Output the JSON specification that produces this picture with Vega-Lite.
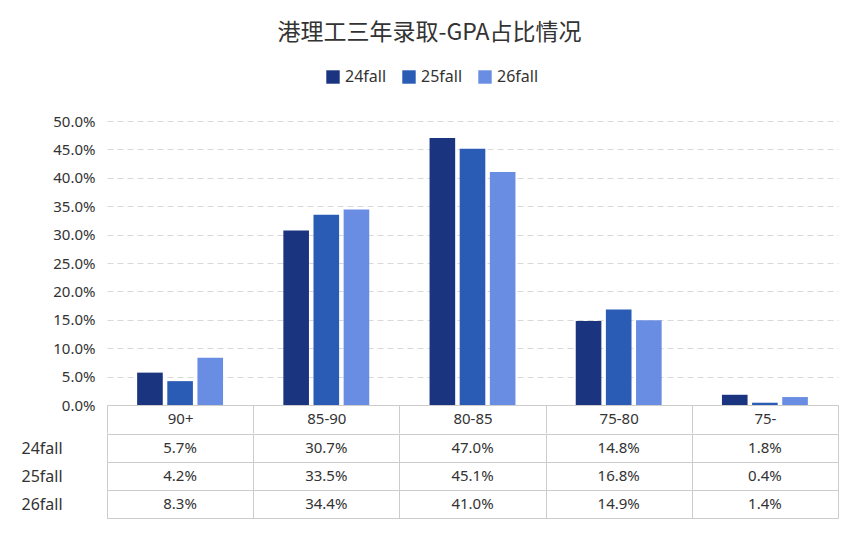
{
  "$schema": "https://vega.github.io/schema/vega-lite/v6.json",
  "padding": {"left": 20, "top": 22, "right": 20, "bottom": 5},
  "background": "white",
  "title": {"text": "港理工三年录取-GPA占比情况", "fontSize": 23, "font": "Noto Sans CJK SC", "fontWeight": "normal", "color": "#333333", "offset": 24, "anchor": "middle"},
  "config": {"font": "Noto Sans", "view": {"stroke": null}, "axis": {"labelFontSize": 15, "labelColor": "#333333"}},
  "data": {"values": [
    {"gpa": "90+", "year": "24fall", "v": 0.057},
    {"gpa": "90+", "year": "25fall", "v": 0.042},
    {"gpa": "90+", "year": "26fall", "v": 0.083},
    {"gpa": "85-90", "year": "24fall", "v": 0.307},
    {"gpa": "85-90", "year": "25fall", "v": 0.335},
    {"gpa": "85-90", "year": "26fall", "v": 0.344},
    {"gpa": "80-85", "year": "24fall", "v": 0.470},
    {"gpa": "80-85", "year": "25fall", "v": 0.451},
    {"gpa": "80-85", "year": "26fall", "v": 0.410},
    {"gpa": "75-80", "year": "24fall", "v": 0.148},
    {"gpa": "75-80", "year": "25fall", "v": 0.168},
    {"gpa": "75-80", "year": "26fall", "v": 0.149},
    {"gpa": "75-", "year": "24fall", "v": 0.018},
    {"gpa": "75-", "year": "25fall", "v": 0.004},
    {"gpa": "75-", "year": "26fall", "v": 0.014}
  ]},
  "spacing": -11,
  "vconcat": [
    {
      "width": 731,
      "height": 284,
      "mark": {"type": "bar"},
      "encoding": {
        "x": {"field": "gpa", "type": "nominal", "sort": null, "title": null,
          "scale": {"paddingInner": 0, "paddingOuter": 0},
          "axis": {"labelAngle": 0, "tickBand": "extent", "ticks": true, "tickSize": 28, "tickColor": "#cccccc", "domainColor": "#cccccc", "labelPadding": -15, "labelBaseline": "middle", "minExtent": 28, "maxExtent": 28}},
        "xOffset": {"field": "year", "type": "nominal", "scale": {"paddingOuter": 2.0, "paddingInner": 0.15}},
        "y": {"field": "v", "type": "quantitative", "title": null,
          "scale": {"domain": [0, 0.5]},
          "axis": {"format": ".1%", "tickCount": 10, "domain": false, "ticks": false, "gridDash": [6, 4], "gridColor": "#d9d9d9", "labelPadding": 12}},
        "color": {"field": "year", "type": "nominal", "title": null,
          "scale": {"range": ["#1b3480", "#2a5cb6", "#6a8de4"]},
          "legend": {"orient": "none", "legendX": 218, "legendY": -52, "direction": "horizontal", "symbolType": "square", "symbolSize": 180, "labelFontSize": 16, "labelColor": "#333333", "columnPadding": 14}}
      }
    },
    {
      "width": 731,
      "height": 84,
      "view": {"stroke": "#cccccc"},
      "mark": {"type": "text", "fontSize": 15, "color": "#333333"},
      "encoding": {
        "x": {"field": "gpa", "type": "nominal", "sort": null, "title": null,
          "scale": {"paddingInner": 0, "paddingOuter": 0},
          "axis": {"labels": false, "ticks": false, "domain": false, "grid": true, "tickBand": "extent", "gridColor": "#cccccc"}},
        "y": {"field": "year", "type": "nominal", "title": null,
          "scale": {"paddingInner": 0, "paddingOuter": 0},
          "axis": {"ticks": false, "domain": false, "grid": true, "tickBand": "extent", "gridColor": "#cccccc", "labelPadding": 86, "labelAlign": "left", "labelFontSize": 16}},
        "text": {"field": "v", "type": "quantitative", "format": ".1%"}
      }
    }
  ]
}
